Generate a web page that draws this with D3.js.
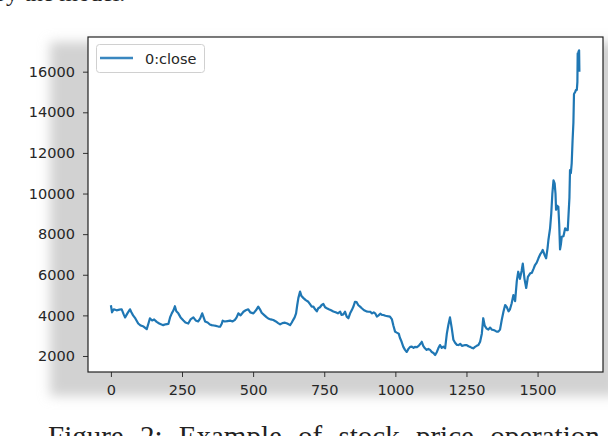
<!DOCTYPE html>
<html><head><meta charset="utf-8">
<script src="https://cdn.jsdelivr.net/npm/d3@7"></script>
<style>html,body{margin:0;padding:0;background:#fff;}svg{display:block;}</style>
</head><body>
<svg id="c" width="608" height="436"></svg>
<script>
const seriesName = "0:close";
const xTicks = [0, 250, 500, 750, 1000, 1250, 1500];
const yTicks = [2000, 4000, 6000, 8000, 10000, 12000, 14000, 16000];
const topText = "by the model.";
const caption = "Figure 2: Example of stock price operation";
const day = [0,4,10,20,30,38,45,50,58,67,72,78,86,96,105,115,126,132,137,145,152,161,170,178,184,192,202,208,214,220,225,230,237,245,255,262,272,280,290,298,307,314,321,326,331,340,348,354,362,370,378,384,390,393,400,410,419,428,436,442,448,456,466,474,483,490,501,510,518,524,530,540,548,553,562,571,580,588,595,603,612,620,630,636,641,646,651,655,659,665,670,677,685,694,700,706,712,718,724,729,735,741,747,753,759,766,774,782,790,798,806,811,817,823,829,835,841,847,853,858,864,870,876,882,890,898,905,911,918,924,929,935,941,947,953,958,965,972,981,988,993,999,1005,1012,1016,1022,1028,1034,1040,1046,1052,1058,1064,1069,1075,1082,1088,1093,1098,1104,1110,1116,1122,1128,1134,1140,1146,1151,1157,1163,1169,1175,1181,1186,1192,1198,1204,1210,1216,1222,1228,1234,1240,1245,1251,1257,1263,1269,1274,1280,1286,1292,1298,1304,1309,1314,1321,1327,1333,1339,1345,1350,1356,1362,1368,1374,1380,1386,1392,1398,1403,1409,1415,1421,1427,1432,1438,1444,1448,1454,1460,1466,1474,1480,1486,1491,1497,1503,1509,1514,1518,1524,1530,1535,1538,1544,1548,1552,1556,1560,1563,1565,1569,1573,1576,1579,1582,1585,1591,1597,1602,1606,1609,1612,1614,1617,1620,1623,1626,1628,1632,1635,1638,1640,1641,1643,1644,1645,1646,1647];
const close = [4500,4150,4300,4250,4280,4300,4050,3900,4100,4300,4150,4000,3850,3600,3500,3450,3320,3600,3850,3750,3800,3680,3600,3550,3520,3560,3580,3900,4100,4250,4450,4200,4100,3900,3750,3650,3600,3800,3900,3750,3700,3850,4100,3900,3700,3650,3550,3520,3500,3480,3450,3440,3600,3740,3700,3720,3740,3700,3780,3900,4100,4000,4180,4250,4300,4150,4100,4250,4430,4300,4130,4000,3900,3850,3800,3770,3700,3620,3560,3620,3640,3600,3520,3650,3780,3900,4100,4500,4850,5170,4950,4850,4750,4670,4550,4430,4430,4300,4200,4350,4400,4510,4560,4400,4350,4300,4250,4190,4150,4100,4180,4020,4050,4180,3940,3860,4100,4260,4450,4670,4650,4500,4430,4350,4250,4200,4180,4180,4100,4150,4100,3940,4000,4080,4020,4020,3980,3960,3940,3800,3500,3200,3150,3100,2900,2700,2450,2300,2200,2350,2450,2460,2400,2450,2430,2500,2600,2700,2500,2380,2300,2350,2300,2200,2150,2050,2200,2380,2540,2400,2460,2380,3100,3500,3900,3400,2800,2650,2550,2540,2600,2500,2520,2540,2540,2480,2450,2400,2380,2450,2500,2540,2700,3100,3860,3500,3350,3300,3400,3300,3280,3250,3200,3200,3300,3770,4180,4510,4400,4200,4300,4600,5000,4700,5700,6150,5800,6200,6550,5800,5350,5900,6070,6100,6300,6480,6600,6810,7000,7100,7220,7000,6810,7300,7700,8300,9000,10000,10650,10500,10000,9200,9400,9350,8500,7250,7500,7870,7900,8290,8200,8200,9000,9800,11150,11000,11500,12600,13500,14900,15000,15100,15100,15500,16900,16500,17000,16400,17050,16000];

const svg = d3.select("#c");
const L = 88, R = 603, T = 37, B = 372;
const x = d3.scaleLinear().domain([-80.5, 1730]).range([L, R]);
const y = d3.scaleLinear().domain([1212, 17708]).range([B, T]);

// drop shadow behind the figure
const defs = svg.append("defs");
const f = defs.append("filter").attr("id", "blur").attr("x", "-20%").attr("y", "-20%").attr("width", "140%").attr("height", "140%");
f.append("feGaussianBlur").attr("stdDeviation", 6);
svg.append("rect").attr("x", 50).attr("y", 42).attr("width", 568).attr("height", 354)
  .attr("fill", "#d2d2d2").attr("filter", "url(#blur)");

svg.append("rect").attr("x", L).attr("y", T).attr("width", R - L).attr("height", B - T).attr("fill", "#fff");

// top running text and caption (cropped as in the page scan)
svg.append("text").attr("x", -6).attr("y", 1).attr("font-family", "Liberation Serif").attr("font-size", 24)
  .attr("fill", "#222").text(topText);
svg.append("text").attr("x", 48).attr("y", 446).attr("font-family", "Liberation Serif").attr("font-size", 29)
  .attr("fill", "#222").attr("word-spacing", 9).text(caption);

const line = d3.line().x((d, i) => x(day[i])).y(d => y(d));
svg.append("path").datum(close).attr("d", line).attr("fill", "none")
  .attr("stroke", "#1f77b4").attr("stroke-width", 2.2).attr("stroke-linejoin", "round");

const xAxis = d3.axisBottom(x).tickValues(xTicks).tickSize(5).tickPadding(8).tickFormat(d3.format("d"));
const yAxis = d3.axisLeft(y).tickValues(yTicks).tickSize(5).tickPadding(8).tickFormat(d3.format("d"));
const gx = svg.append("g").attr("transform", `translate(0,${B})`).call(xAxis);
const gy = svg.append("g").attr("transform", `translate(${L},0)`).call(yAxis);
[gx, gy].forEach(g => {
  g.select(".domain").remove();
  g.selectAll("line").attr("stroke", "#333");
  g.selectAll("text").attr("font-family", "DejaVu Sans").attr("font-size", 14.5).attr("fill", "#262626");
});

svg.append("rect").attr("x", L).attr("y", T).attr("width", R - L).attr("height", B - T)
  .attr("fill", "none").attr("stroke", "#222").attr("stroke-width", 1.2);

// legend
const lg = svg.append("g");
lg.append("rect").attr("x", 96.5).attr("y", 44.5).attr("width", 108).attr("height", 28).attr("rx", 3)
  .attr("fill", "#fff").attr("stroke", "#d0d0d0");
lg.append("line").attr("x1", 100).attr("x2", 133).attr("y1", 58).attr("y2", 58)
  .attr("stroke", "#3a87c0").attr("stroke-width", 2.4);
lg.append("text").attr("x", 145).attr("y", 63.5).attr("font-family", "DejaVu Sans").attr("font-size", 14.5)
  .attr("fill", "#262626").text(seriesName);
</script>
</body></html>
